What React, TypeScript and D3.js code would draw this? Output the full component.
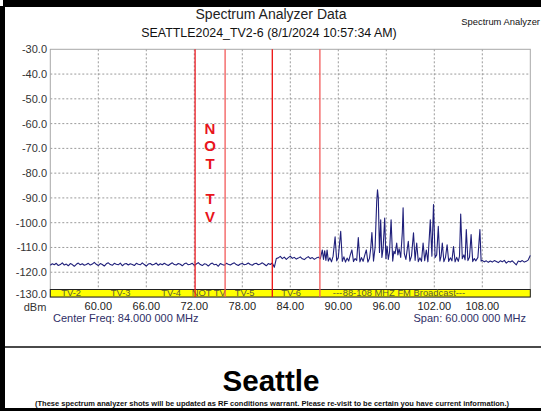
import React from 'react';
import * as d3 from 'd3';

const W = 541;
const H = 411;

const freqDomain = [54, 114];
const levelDomain = [-130, -30];
const xTickValues = [60, 66, 72, 78, 84, 90, 96, 102, 108];
const yTickValues = [-30, -40, -50, -60, -70, -80, -90, -100, -110, -120, -130];
const markerFreqs = [72.1, 75.85, 81.75, 87.7];
const markerColors = ['#ec1c24', '#f25a5a', '#ec1010', '#f25a5a'];
const bandNames = ['TV-2', 'TV-3', 'TV-4', 'NOT TV', 'TV-5', 'TV-6', '---', '88-108 MHZ FM Broadcast---'];
const bandCenters = [56.6, 62.8, 69.1, 73.8, 78.3, 84.1, 89.9, 98.2];
const notTvLetters = ['N', 'O', 'T', '', 'T', 'V'];

// sweep bins 54.00 .. 87.75 MHz, 0.25 MHz apart
const lowBandStart = 54;
const binStep = 0.25;
const lowBandLevels = [
  -117.2, -116.6, -117.0, -116.4, -117.3, -116.9, -116.2, -117.1, -116.7, -117.4,
  -116.5, -116.9, -117.6, -116.8, -116.3, -117.0, -116.6, -117.2, -116.9, -116.4,
  -117.1, -116.7, -116.0, -116.8, -117.3, -116.5, -116.9, -117.5, -116.6, -116.2,
  -116.9, -117.2, -116.4, -116.8, -117.0, -116.3, -117.4, -116.7, -116.5, -117.1,
  -116.6, -116.9, -117.3, -116.4, -116.8, -117.0, -116.2, -116.9, -117.5, -116.7,
  -116.5, -117.1, -116.8, -116.3, -117.2, -116.6, -117.0, -116.4, -116.9, -117.3,
  -116.7, -116.2, -116.9, -117.1, -116.5, -116.8, -117.4, -116.6, -116.3, -117.0,
  -116.8, -116.4, -117.2, -116.7, -116.1, -116.9, -117.3, -116.6, -116.8, -117.5,
  -116.7, -116.3, -117.0, -116.8, -117.6, -116.5, -116.9, -117.2, -116.4, -116.8,
  -117.1, -116.6, -116.2, -116.9, -117.3, -116.7, -116.5, -117.0, -116.8, -116.3,
  -116.9, -117.2, -116.6, -116.4, -117.0, -116.7, -116.2, -116.8, -117.4, -116.5, -116.9,
  -116.3, -118.0, -114.5,
  -114.2, -113.6, -114.5, -113.9, -114.8, -114.1, -113.5, -114.4, -114.0, -114.7,
  -114.3, -113.8, -114.6, -114.9, -114.2, -113.7, -114.5, -114.1, -114.8, -114.3, -113.9, -114.6,
];

// FM broadcast band, [MHz, dBm]
const fmTrace = [
  [88.0, -111.0], [88.15, -114.8], [88.3, -111.3], [88.45, -115.2], [88.6, -111.0], [88.75, -115.5],
  [88.95, -114.2], [89.15, -115.8], [89.35, -113.5], [89.6, -105.7], [89.8, -115.4], [90.0, -114.0],
  [90.3, -103.5], [90.5, -115.6], [90.7, -113.8], [90.9, -115.9], [91.1, -114.3], [91.3, -115.5],
  [91.5, -113.0], [91.7, -111.0], [91.9, -115.7], [92.1, -114.5], [92.3, -115.2], [92.5, -106.0],
  [92.7, -115.8], [92.9, -114.1], [93.1, -115.6], [93.3, -113.2], [93.5, -111.0], [93.7, -115.9],
  [93.9, -114.4], [94.05, -110.5], [94.2, -104.0], [94.4, -115.5], [94.6, -110.0], [94.8, -91.5],
  [94.9, -86.7], [95.0, -90.0], [95.15, -112.0], [95.3, -98.8], [95.45, -114.0], [95.6, -110.5],
  [95.8, -98.1], [95.95, -114.5], [96.1, -109.5], [96.25, -114.8], [96.4, -112.0], [96.6, -98.8],
  [96.8, -115.5], [96.95, -111.5], [97.1, -112.5], [97.3, -108.2], [97.45, -113.0], [97.6, -110.5],
  [97.8, -114.0], [98.0, -104.0], [98.1, -94.0], [98.25, -112.5], [98.45, -114.8], [98.75, -107.5],
  [98.95, -115.5], [99.15, -113.5], [99.4, -104.1], [99.6, -115.2], [99.8, -108.2], [100.0, -115.7],
  [100.2, -114.2], [100.4, -115.6], [100.6, -108.2], [100.8, -115.3], [101.0, -111.0], [101.2, -115.8],
  [101.5, -98.8], [101.7, -113.5], [101.9, -92.7], [102.1, -114.0], [102.3, -113.0], [102.5, -101.5],
  [102.7, -115.5], [102.85, -113.5], [103.0, -108.2], [103.2, -115.7], [103.4, -114.0], [103.6, -108.9],
  [103.8, -115.6], [104.0, -114.2], [104.2, -115.4], [104.4, -109.6], [104.6, -115.8], [104.8, -114.0],
  [105.0, -115.6], [105.15, -113.5], [105.3, -96.5], [105.5, -114.5], [105.7, -113.0], [105.85, -115.0],
  [106.0, -102.8], [106.2, -115.3], [106.4, -114.0], [106.6, -104.8], [106.8, -115.7], [107.0, -114.5],
  [107.2, -115.4], [107.45, -114.0], [107.7, -102.8], [107.85, -115.5],
];

// sweep bins 108.00 .. 114.00 MHz
const highBandStart = 108;
const highBandLevels = [
  -115.2, -115.8, -115.4, -116.0, -115.5, -115.9, -115.3, -115.7, -116.1, -115.4,
  -115.8, -115.2, -116.3, -115.6, -115.9, -115.4, -116.2, -117.0, -115.5, -115.8,
  -115.3, -115.9, -115.6, -115.0, -113.2,
];

const FONT = '"Liberation Sans", Arial, Helvetica, sans-serif';

export default function App() {
  const x = d3.scaleLinear().domain(freqDomain).range([50.3, 530.3]);
  const y = d3.scaleLinear().domain(levelDomain).range([297, 49.3]);
  const plotL = x.range()[0];
  const plotR = x.range()[1];
  const plotT = y.range()[1];
  const plotB = y.range()[0];
  const bandTop = 289.5;

  const points: [number, number][] = [
    ...lowBandLevels.map((v, i) => [lowBandStart + i * binStep, v] as [number, number]),
    ...fmTrace.map((p) => [p[0], p[1]] as [number, number]),
    ...highBandLevels.map((v, i) => [highBandStart + i * binStep, v] as [number, number]),
  ];
  const line = d3
    .line<[number, number]>()
    .x((d) => x(d[0]))
    .y((d) => y(d[1]));

  return (
    <svg
      width={W}
      height={H}
      viewBox={`0 0 ${W} ${H}`}
      style={{ position: 'absolute', left: 0, top: 0, display: 'block', background: '#fff' }}
      fontFamily={FONT}
    >
      <rect x={0} y={0} width={W} height={H} fill="#fff" />
      {/* outer frame */}
      <rect x={3} y={0} width={W - 3} height={7} fill="#000" />
      <rect x={0} y={6} width={5} height={H - 6} fill="#000" />
      <rect x={0} y={408} width={W} height={3} fill="#000" />
      <line x1={5} x2={W} y1={347} y2={347} stroke="#4a4a4a" strokeWidth={2} />

      {/* titles */}
      <text x={271} y={19} textAnchor="middle" fontSize={14} fill="#222">Spectrum Analyzer Data</text>
      <text x={269} y={37} textAnchor="middle" fontSize={12.4} fill="#111">SEATTLE2024_TV2-6 (8/1/2024 10:57:34 AM)</text>
      <text x={540} y={24.5} textAnchor="end" fontSize={9.4} fill="#111">Spectrum Analyzer</text>

      {/* grid */}
      {yTickValues.filter((v) => v > -130 && v < -30).map((v) => (
        <line key={'gy' + v} x1={plotL} x2={plotR} y1={y(v)} y2={y(v)} stroke="#9a9a9a" strokeWidth={1} strokeDasharray="2,2" />
      ))}
      {xTickValues.map((v) => (
        <line key={'gx' + v} x1={x(v)} x2={x(v)} y1={plotT} y2={bandTop} stroke="#9a9a9a" strokeWidth={1} strokeDasharray="2,2" />
      ))}
      <rect x={plotL} y={plotT} width={plotR - plotL} height={plotB - plotT} fill="none" stroke="#a8a8a8" strokeWidth={1} />

      {/* trace */}
      <path d={line(points) || ''} fill="none" stroke="#1f1f7a" strokeWidth={1.1} strokeLinejoin="round" />

      {/* channel band */}
      <rect x={plotL} y={bandTop} width={plotR - plotL} height={plotB - bandTop} fill="#ffff00" stroke="#222" strokeWidth={1} />
      {bandNames.map((n, i) => (
        <text key={n + i} x={x(bandCenters[i])} y={296.4} textAnchor="middle" fontSize={9.4} fill="#5a5a3a">{n}</text>
      ))}

      {/* markers */}
      {markerFreqs.map((f, i) => (
        <line key={'m' + f} x1={x(f)} x2={x(f)} y1={plotT} y2={plotB} stroke={markerColors[i]} strokeWidth={1.3} />
      ))}
      {notTvLetters.map((c, i) => (
        <text key={'nt' + i} x={210} y={133.5 + i * 17.7} textAnchor="middle" fontSize={15} fontWeight="bold" fill="#e8141c">{c}</text>
      ))}

      {/* axes labels */}
      {yTickValues.map((v) => (
        <text key={'yl' + v} x={47} y={Math.min(y(v), 294) + 4} textAnchor="end" fontSize={11} fill="#333">{v.toFixed(1)}</text>
      ))}
      {xTickValues.map((v) => (
        <text key={'xl' + v} x={x(v)} y={310} textAnchor="middle" fontSize={11} fill="#222">{v.toFixed(2)}</text>
      ))}
      <text x={35} y={311} textAnchor="middle" fontSize={11} fill="#333">dBm</text>
      <text x={53} y={322} fontSize={11} fill="#2e2e66">Center Freq: 84.000 000 MHz</text>
      <text x={526} y={322} textAnchor="end" fontSize={11} fill="#2e2e66">Span: 60.000 000 MHz</text>

      {/* lower panel */}
      <text x={271} y={391} textAnchor="middle" fontSize={29.6} fontWeight="bold" fill="#000">Seattle</text>
      <text x={272} y={406} textAnchor="middle" fontSize={6.8} fontWeight="bold" fill="#111" textLength={474} lengthAdjust="spacingAndGlyphs">
        (These spectrum analyzer shots will be updated as RF conditions warrant.  Please re-visit to be certain you have current information.)
      </text>
    </svg>
  );
}
